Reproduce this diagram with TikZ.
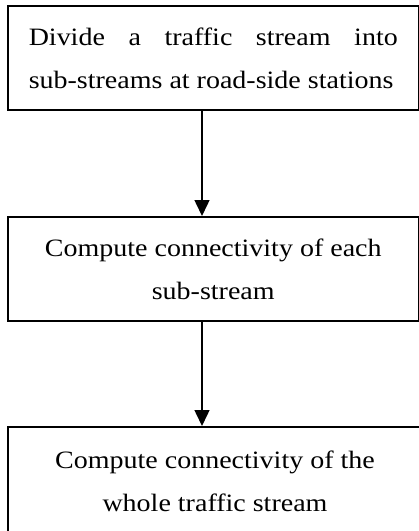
\documentclass[tikz,border=0pt]{standalone}
\usepackage{fontspec}
\setmainfont{Liberation Serif}[FakeStretch=1.12]
\usetikzlibrary{arrows.meta}
\begin{document}
\begin{tikzpicture}[x=1pt,y=-1pt,
  stepbox/.style={draw, line width=2pt, minimum width=410.5pt, minimum height=104pt, inner sep=0pt, font=\fontsize{25}{43}\selectfont},
  flow/.style={line width=1.5pt, -{Triangle[length=16pt,width=15pt]}}]
\useasboundingbox (0,0) rectangle (419,531);
\clip (0,0) rectangle (419,531);
\node[stepbox, align=justify, text width=369pt] (a) at (213.25,58) {Divide a traffic stream into\linebreak sub-streams at road-side stations};
\node[stepbox, align=center] (b) at (213.25,269) {Compute connectivity of each\\sub-stream};
\node[stepbox, align=center, minimum width=414pt, minimum height=108pt] (c) at (215,481) {Compute connectivity of the\\whole traffic stream};
\draw[flow] ([xshift=-11.25pt]a.south) -- ([xshift=-11.25pt]b.north);
\draw[flow] ([xshift=-11.25pt]b.south) -- ([xshift=-13pt]c.north);
\end{tikzpicture}
\end{document}
